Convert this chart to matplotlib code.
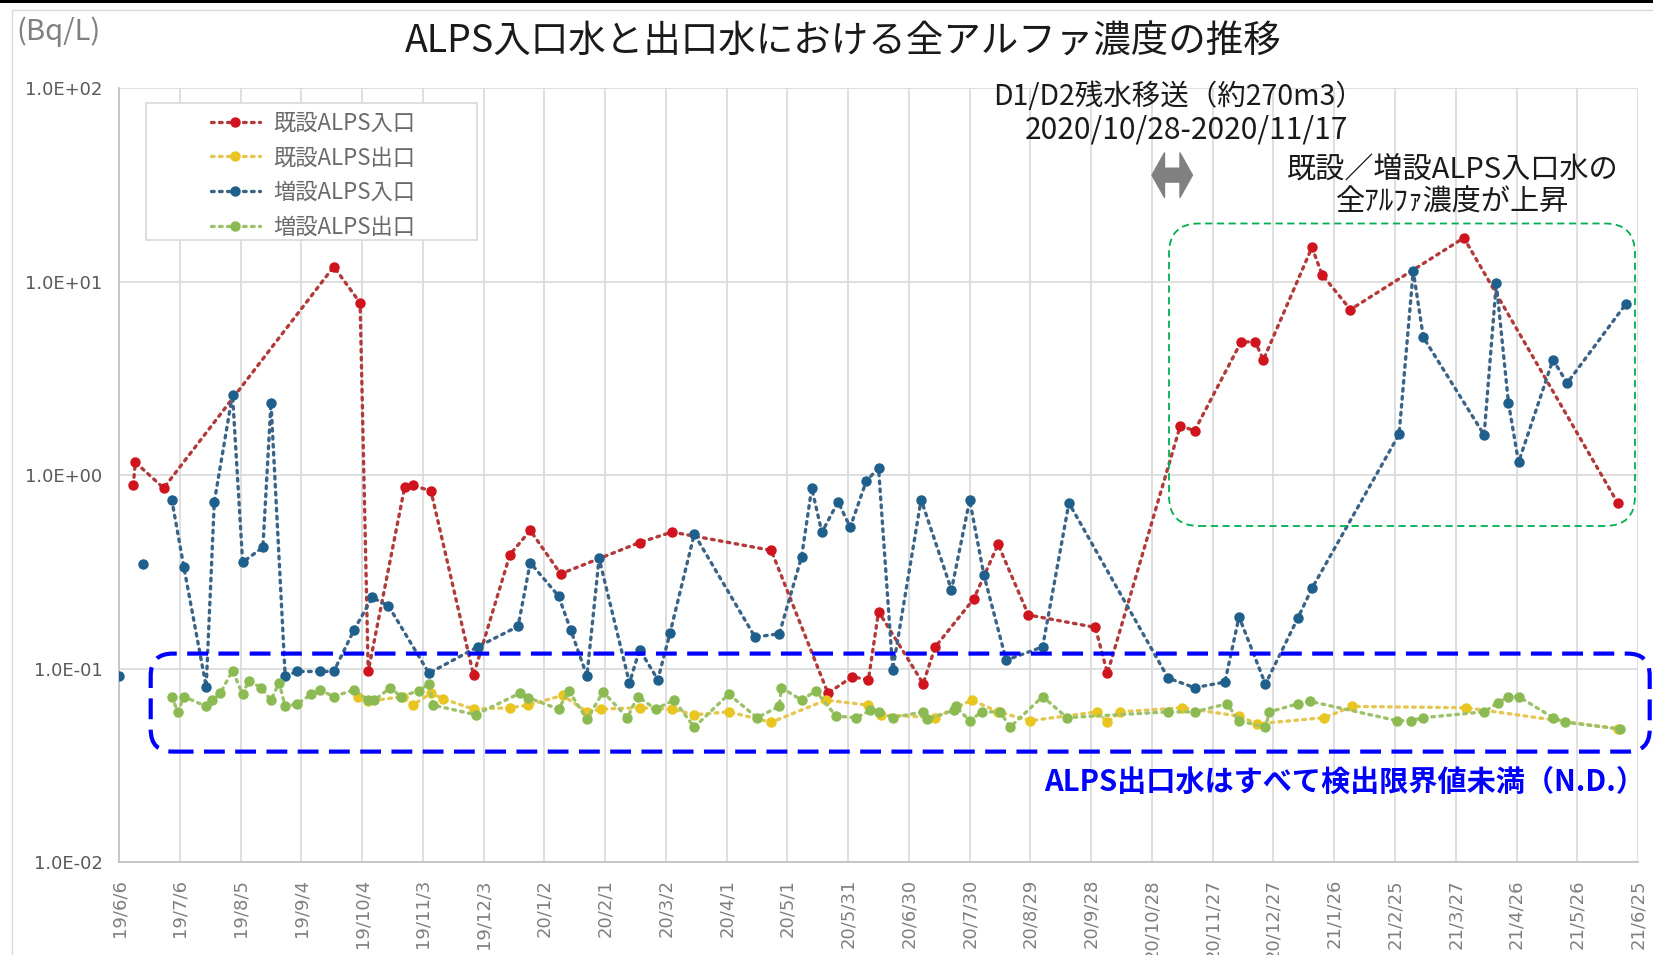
import numpy as np
import pandas as pd
import matplotlib
matplotlib.use('Agg')
import matplotlib.pyplot as plt
import matplotlib.dates as mdates
import matplotlib.transforms as mtransforms
from matplotlib.patches import FancyBboxPatch, FancyArrowPatch, Rectangle
from matplotlib.lines import Line2D
from matplotlib.ticker import NullLocator

plt.rcParams['font.family'] = ['Noto Sans CJK JP', 'DejaVu Sans']

# ---------------- data ----------------
START = np.datetime64('2019-06-06')
TICK_STEP_DAYS = 30
N_TICKS = 26

title = 'ALPS入口水と出口水における全アルファ濃度の推移'
unit_label = '(Bq/L)'
series_names = ['既設ALPS入口', '既設ALPS出口', '増設ALPS入口', '増設ALPS出口']
y_ticks = [1e-2, 1e-1, 1e0, 1e1, 1e2]

# days after START
kisetsu_in_day = [7, 8, 22, 106, 119, 123, 141, 145, 154, 175, 193, 203, 218, 257, 273, 322,
                  350, 362, 370, 375, 397, 403, 422, 434, 449, 482, 488, 524, 531, 554, 561,
                  565, 589, 594, 608, 664, 740]
kisetsu_in_val = [0.89, 1.17, 0.86, 12.0, 7.8, 0.097, 0.87, 0.89, 0.83, 0.093, 0.39, 0.52, 0.31,
                  0.45, 0.51, 0.41, 0.075, 0.091, 0.088, 0.198, 0.084, 0.13, 0.23, 0.44, 0.19,
                  0.164, 0.095, 1.81, 1.70, 4.9, 4.9, 3.96, 15.1, 10.9, 7.2, 16.9, 0.72]

kisetsu_out_day = [118, 123, 140, 145, 154, 160, 175, 193, 202, 219, 231, 238, 257, 273, 284, 301,
                   322, 349, 370, 376, 403, 421, 434, 450, 483, 488, 494, 525, 553, 562, 595,
                   609, 665, 740]
kisetsu_out_val = [0.072, 0.068, 0.072, 0.065, 0.075, 0.070, 0.062, 0.063, 0.065, 0.073, 0.060,
                   0.062, 0.063, 0.062, 0.058, 0.060, 0.053, 0.069, 0.065, 0.058, 0.056, 0.069,
                   0.060, 0.054, 0.060, 0.053, 0.060, 0.063, 0.057, 0.052, 0.056, 0.064, 0.063,
                   0.049]

zousetsu_in_day = [0, 12, 26, 32, 43, 47, 56, 61, 71, 75, 82, 88, 99, 106, 116, 125, 133, 153, 177,
                   197, 203, 217, 223, 231, 237, 252, 257, 266, 272, 284, 314, 326, 337, 342, 347,
                   355, 361, 369, 375, 382, 396, 411, 420, 427, 438, 456, 469, 518, 531, 546, 553,
                   566, 582, 589, 632, 639, 644, 674, 680, 686, 691, 708, 715, 744]
zousetsu_in_val = [0.092, 0.35, 0.75, 0.335, 0.081, 0.73, 2.62, 0.356, 0.425, 2.38, 0.092, 0.097,
                   0.097, 0.097, 0.159, 0.234, 0.212, 0.095, 0.13, 0.166, 0.354, 0.238, 0.159,
                   0.092, 0.373, 0.0845, 0.126, 0.088, 0.153, 0.498, 0.146, 0.152, 0.38, 0.86,
                   0.508, 0.73, 0.54, 0.94, 1.09, 0.099, 0.75, 0.256, 0.746, 0.306, 0.111, 0.13,
                   0.72, 0.0896, 0.080, 0.0855, 0.186, 0.0835, 0.183, 0.261, 1.63, 11.4, 5.17,
                   1.62, 9.86, 2.38, 1.17, 3.97, 3.0, 7.7]
zousetsu_in_line_from = 2   # first two samples are not joined by the line

zousetsu_out_day = [26, 29, 32, 43, 46, 50, 56, 61, 64, 70, 75, 79, 82, 88, 95, 99, 106, 116, 123,
                    126, 134, 139, 148, 153, 155, 176, 198, 202, 217, 222, 231, 239, 251, 256,
                    265, 274, 284, 301, 315, 326, 327, 337, 344, 354, 364, 371, 375, 382, 397,
                    399, 412, 413, 420, 426, 435, 440, 456, 468, 518, 531, 547, 553, 566, 568,
                    582, 588, 631, 638, 644, 674, 681, 686, 691, 708, 714, 741]
zousetsu_out_val = [0.072, 0.060, 0.072, 0.064, 0.069, 0.075, 0.098, 0.074, 0.087, 0.080, 0.069,
                    0.085, 0.064, 0.066, 0.074, 0.078, 0.072, 0.078, 0.069, 0.069, 0.080, 0.072,
                    0.077, 0.084, 0.065, 0.058, 0.075, 0.071, 0.062, 0.077, 0.055, 0.076, 0.056,
                    0.072, 0.062, 0.069, 0.050, 0.074, 0.056, 0.064, 0.080, 0.069, 0.077, 0.057,
                    0.056, 0.061, 0.060, 0.056, 0.060, 0.055, 0.061, 0.064, 0.054, 0.060, 0.060,
                    0.050, 0.072, 0.056, 0.060, 0.060, 0.066, 0.054, 0.050, 0.060, 0.066, 0.068,
                    0.054, 0.054, 0.056, 0.060, 0.067, 0.072, 0.072, 0.056, 0.053, 0.049]

transfer_start = np.datetime64('2020-10-28')
transfer_end = np.datetime64('2020-11-17')

# ---------------- styles ----------------
marker_colors = ['#D0141E', '#E9C51F', '#1F5F8C', '#8CBA52']
line_colors = ['#B23A3A', '#E4C650', '#3A6386', '#9CC168']
DOT = (0, (0.8, 1.6))
LW = 2.4
MS = 6.5

fig = plt.figure(figsize=(16.53, 9.55), dpi=100)
ax = fig.add_axes([0.07205, 0.09696, 0.9189, 0.8104])


def dates(days):
    return START + np.array(days, dtype='timedelta64[D]')


def draw(days, vals, i, z, line_from=0):
    d = dates(days)
    v = np.array(vals, dtype=float)
    ax.plot(d[line_from:], v[line_from:], ls=DOT, lw=LW, color=line_colors[i],
            dash_capstyle='round', zorder=z)
    ax.plot(d, v, ls='none', marker='o', ms=MS, mfc=marker_colors[i],
            mec=marker_colors[i], zorder=z + 0.5)


draw(kisetsu_in_day, kisetsu_in_val, 0, 3)
draw(kisetsu_out_day, kisetsu_out_val, 1, 4)
draw(zousetsu_in_day, zousetsu_in_val, 2, 5, line_from=zousetsu_in_line_from)
draw(zousetsu_out_day, zousetsu_out_val, 3, 6)

# axes
ax.set_yscale('log')
ax.set_ylim(y_ticks[0], y_ticks[-1])
ax.set_yticks(y_ticks)
ax.set_yticklabels([f'{v:.1E}' for v in y_ticks], family='DejaVu Sans', fontsize=13,
                   color='#595959')
ax.yaxis.set_minor_locator(NullLocator())

tick_dates = START + np.arange(N_TICKS) * np.timedelta64(TICK_STEP_DAYS, 'D')
tick_labels = []
for t in tick_dates:
    ts = pd.Timestamp(t)
    tick_labels.append(f'{ts.year % 100}/{ts.month}/{ts.day}')
ax.set_xticks(mdates.date2num(tick_dates))
ax.set_xticklabels(tick_labels, rotation=90, family='DejaVu Sans', fontsize=13,
                   color='#7F7F7F', va='top', ha='center')
ax.set_xlim(mdates.date2num(tick_dates[0]), mdates.date2num(tick_dates[-1]))
ax.tick_params(axis='both', length=0)
ax.tick_params(axis='y', pad=12)
ax.tick_params(axis='x', pad=12)
ax.grid(True, color='#D9D9D9', lw=1.2)
ax.set_axisbelow(True)
for s in ['top', 'right']:
    ax.spines[s].set_visible(False)
for s in ['left', 'bottom']:
    ax.spines[s].set_color('#BFBFBF')
    ax.spines[s].set_linewidth(1.2)

# legend
ax.add_patch(Rectangle((0.0174, 0.8042), 0.2185, 0.1771, transform=ax.transAxes,
                       fc='white', ec='#D9D9D9', lw=1.2, zorder=10))
handles = [Line2D([], [], ls=DOT, lw=LW, color=line_colors[i], dash_capstyle='round',
                  marker='o', ms=MS, mfc=marker_colors[i], mec=marker_colors[i])
           for i in range(4)]
leg = ax.legend(handles, series_names, loc='upper left', bbox_to_anchor=(0.0605, 0.970),
                frameon=False, borderpad=0, borderaxespad=0, fontsize=16,
                handlelength=2.2, handletextpad=0.6, labelspacing=0.52,
                labelcolor='#6A6A6A')
leg.set_zorder(11)

# titles / labels
fig.text(0.51, 0.956, title, ha='center', va='center', fontsize=27, color='#1A1A1A')
fig.text(0.0097, 0.967, unit_label, ha='left', va='center', fontsize=21, color='#808080')

# transfer annotation
fig.text(0.7127, 0.8984, 'D1/D2残水移送（約270m3）', ha='center', va='center',
         fontsize=20.5, color='#1A1A1A')
fig.text(0.7175, 0.8639, '2020/10/28-2020/11/17', ha='center', va='center',
         fontsize=21.5, color='#1A1A1A')
trans = mtransforms.blended_transform_factory(ax.transData, ax.transAxes)
mid = transfer_start + (transfer_end - transfer_start) // 2
for end in (transfer_start, transfer_end):
    ax.add_patch(FancyArrowPatch((mdates.date2num(mid), 0.888), (mdates.date2num(end), 0.888),
                                 transform=trans,
                                 arrowstyle='simple,head_length=0.9,head_width=3.2,tail_width=1.0',
                                 mutation_scale=10, color='#808080', clip_on=False,
                                 shrinkA=0, shrinkB=0, zorder=12))

fig.text(0.879, 0.823, '既設／増設ALPS入口水の', ha='center', va='center', fontsize=21,
         color='#1A1A1A')
fig.text(0.879, 0.7874, '全ｱﾙﾌｧ濃度が上昇', ha='center', va='center', fontsize=21,
         color='#1A1A1A')

fig.add_artist(FancyBboxPatch((11.69, 4.29), 4.66, 3.025,
                              boxstyle='round,pad=0,rounding_size=0.3',
                              transform=fig.dpi_scale_trans, fill=False, ec='#00B050',
                              lw=1.3, ls=(0, (4, 2.5))))

# outlet N.D. box
fig.add_artist(FancyBboxPatch((1.507, 2.034), 14.99, 0.98,
                              boxstyle='round,pad=0,rounding_size=0.22',
                              transform=fig.dpi_scale_trans, fill=False, ec='#0000FF',
                              lw=3, ls=(0, (5, 2.5))))
fig.text(0.995, 0.1812, 'ALPS出口水はすべて検出限界値未満（N.D.）', ha='right', va='center',
         fontsize=21, fontweight='bold', color='#0000FF')

# frame decorations
fig.add_artist(Rectangle((0.12, -1.0), 20, 10.45, transform=fig.dpi_scale_trans,
                         fill=False, ec='#D9D9D9', lw=1))
fig.add_artist(Rectangle((0, 9.52), 16.53, 0.05, transform=fig.dpi_scale_trans,
                         fc='black', ec='none'))

fig.savefig('out.png', dpi=100)
